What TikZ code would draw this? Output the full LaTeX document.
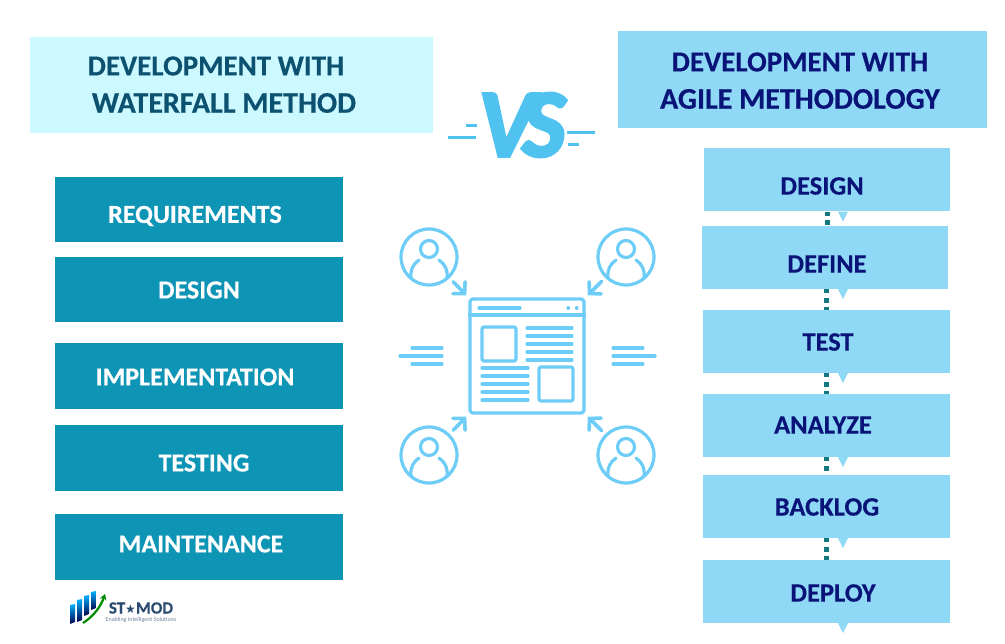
\documentclass[tikz,border=0pt]{standalone}
\usepackage{fontspec}
\setmainfont{Carlito}[BoldFeatures={FakeBold=0.4}]
\newfontfamily\vsfont{Lato}[BoldItalicFeatures={FakeBold=4}]
\newfontfamily\starfont{DejaVu Sans}
\usepackage{xcolor}
\usetikzlibrary{calc,shapes,positioning,arrows.meta}
\definecolor{headpale}{HTML}{CCF8FF}
\definecolor{headblue}{HTML}{8FD9F6}
\definecolor{boxteal}{HTML}{0E94B5}
\definecolor{iconblue}{HTML}{6DCDF6}
\definecolor{vsblue}{HTML}{4FC2EF}
\definecolor{tealtext}{HTML}{0C5270}
\definecolor{navytext}{HTML}{0A1478}
\definecolor{dotteal}{HTML}{14787F}
\definecolor{logotext}{HTML}{2B4A70}
\begin{document}
\begin{tikzpicture}[x=1pt,y=-1pt]
      \tikzstyle{hnode} = [font=\bfseries\fontsize{30}{30}\selectfont, inner sep = 0pt]
      \tikzstyle{hsmall} = [font=\bfseries\fontsize{29}{29}\selectfont, inner sep = 0pt]
      \tikzstyle{lnode} = [rectangle, fill=boxteal, minimum width = 288pt, minimum height = 65.5pt, inner sep = 0pt]
      \tikzstyle{rnode} = [rectangle, fill=headblue, minimum width = 246.5pt, minimum height = 63pt, inner sep = 0pt]
      \tikzstyle{wtext} = [text=white, font=\bfseries\fontsize{26}{26}\selectfont, inner sep = 0pt]
      \tikzstyle{btext} = [text=navytext, font=\bfseries\fontsize{26.5}{26.5}\selectfont, inner sep = 0pt]
      \tikzstyle{icon} = [draw=iconblue, line width = 3.2pt, line cap = round, line join = round]
      \tikzstyle{ucirc} = [icon, circle, minimum size = 56pt, inner sep = 0pt]
      \tikzstyle{uarrow} = [icon, line width = 3.6pt, -{Straight Barb[length=8pt,width=17pt,line cap=round]}, shorten <= 5pt, shorten >= 3pt]
      \tikzstyle{dotted link} = [draw=dotteal, line width = 5pt, dash pattern = on 5pt off 4.5pt, dash phase = 1pt]
      \useasboundingbox (0,0) rectangle (1005,644);

      % headers
      \node[rectangle, fill=headpale, minimum width = 403pt, minimum height = 96pt] (wfhead) at (231.5,85) {};
      \node[rectangle, fill=headblue, minimum width = 369pt, minimum height = 97pt] (aghead) at (802.5,79.5) {};
      \node[hsmall, text=tealtext] (wfa) at (216,66) {DEVELOPMENT WITH};
      \node[hnode, text=tealtext] (wfb) at (224,103) {WATERFALL METHOD};
      \node[hsmall, text=navytext] (aga) at (800,62) {DEVELOPMENT WITH};
      \node[hnode, text=navytext] (agb) at (800,99) {AGILE METHODOLOGY};

      % vs
      \draw[vsblue, line width = 3pt] (448,138) -- (476,138) (466,126) -- (477,126) (567,133) -- (595,133) (568,145) -- (579,145);
      \node[text=vsblue, inner sep = 0pt, font=\vsfont\bfseries\itshape\fontsize{86}{86}\selectfont] (vs) at (523,125) {V\kern-13pt S};

      % waterfall
      \node[lnode] (req) at (199,209.5) {};
      \node[lnode] (des) at (199,289.5) {};
      \node[lnode] (imp) at (199,376) {};
      \node[lnode] (tes) at (199,458) {};
      \node[lnode] (mai) at (199,547) {};
      \node[wtext] (reqt) at (195,216) {REQUIREMENTS};
      \node[wtext] (dest) at (199,290) {DESIGN};
      \node[wtext] (impt) at (195,377) {IMPLEMENTATION};
      \node[wtext] (test) at (204,463) {TESTING};
      \node[wtext] (mait) at (201,544) {MAINTENANCE};

      % agile
      \node[rnode] (sa) at (827,180) {};
      \node[rnode] (sb) at (825,257.5) {};
      \node[rnode] (sc) at (826.5,341.5) {};
      \node[rnode] (sd) at (826.5,425.5) {};
      \node[rnode] (se) at (826.5,506.5) {};
      \node[rnode] (sf) at (826.5,591.5) {};
      \node[btext] (sat) at (822,186) {DESIGN};
      \node[btext] (sbt) at (827,264) {DEFINE};
      \node[btext] (sct) at (828,342) {TEST};
      \node[btext] (sdt) at (823,425) {ANALYZE};
      \node[btext] (set) at (827,507) {BACKLOG};
      \node[btext] (sft) at (833,593) {DEPLOY};

      % connections
      \draw[dotted link] (sa.south) to (sb.north -| sa.south);
      \draw[dotted link] (sb.south -| sc.north) to (sc.north);
      \draw[dotted link] (sc.south) to (sd.north);
      \draw[dotted link] (sd.south) to (se.north);
      \draw[dotted link] (se.south) to (sf.north);
      \foreach \s in {sa,sb,sc,sd,se,sf}
        \fill[headblue] ($(\s.south -| 843,0)+(-5,0)$) -- ($(\s.south -| 843,0)+(5,0)$) -- ($(\s.south -| 843,0)+(0,10)$) -- cycle;

      % window
      \node[icon, rectangle, rounded corners = 3pt, minimum width = 114pt, minimum height = 114pt] (win) at (527,356) {};
      \draw[icon, line cap = butt] (win.west |- 0,315) -- (win.east |- 0,315);
      \draw[icon] (479,308) -- (520,308);
      \draw[icon] (568,308) -- (568.5,308) (576.5,308) -- (577,308);
      \draw[icon, rounded corners = 2pt] (482,327) rectangle (516,361);
      \draw[icon, rounded corners = 2pt] (539,367) rectangle (573,401);
      \foreach \y in {328,336,344,352,360}
        \draw[icon] (527,\y) -- (572,\y);
      \foreach \y in {368,376,384,392,400}
        \draw[icon] (482,\y) -- (528,\y);
      \foreach \y in {348,364} {
        \draw[icon] (412,\y) -- (442,\y);
        \draw[icon] (613,\y) -- (643,\y);
      }
      \draw[icon] (400,356) -- (442,356);
      \draw[icon] (613,356) -- (655,356);

      % users
      \foreach \u/\x/\y in {ua/429/257, ub/626/257, uc/429/455, ud/626/455} {
        \node[ucirc] (\u) at (\x,\y) {};
        \draw[icon] (\x,\y-8) circle (8.5pt);
        \draw[icon] (\x-10,\y+3) .. controls (\x-16,\y+7) and (\x-19,\y+13) .. (\x-18,\y+21);
        \draw[icon] (\x+10,\y+3) .. controls (\x+16,\y+7) and (\x+19,\y+13) .. (\x+18,\y+21);
      }
      \draw[uarrow] (ua) to (win.north west);
      \draw[uarrow] (ub) to (win.north east);
      \draw[uarrow] (uc) to (win.south west);
      \draw[uarrow] (ud) to (win.south east);

      % logo
      \foreach \x/\h/\b in {70/605/624, 77/600/622, 84/596/616, 91/592/610}
        \shade[bottom color=black!70!blue, top color=cyan!70!blue] (\x,\h) -- (\x+5,\h-1) -- (\x+5,\b-2) -- (\x,\b) -- cycle;
      \draw[green!55!black, line width = 2.2pt, -{Stealth[length=6pt,width=7pt]}] (83,623) .. controls (94,616) and (101,606) .. (105,594);
      \node[inner sep = 0pt, text=logotext, font=\bfseries\fontsize{17}{17}\selectfont] (logo) at (141,608) {ST{\starfont\fontsize{12}{12}\selectfont ★}MOD};
      \node[inner sep = 0pt, below = 3pt of logo, text=logotext!70, font=\fontsize{6}{6}\selectfont] (tagline) {Enabling Intelligent Solutions};
\end{tikzpicture}
\end{document}
